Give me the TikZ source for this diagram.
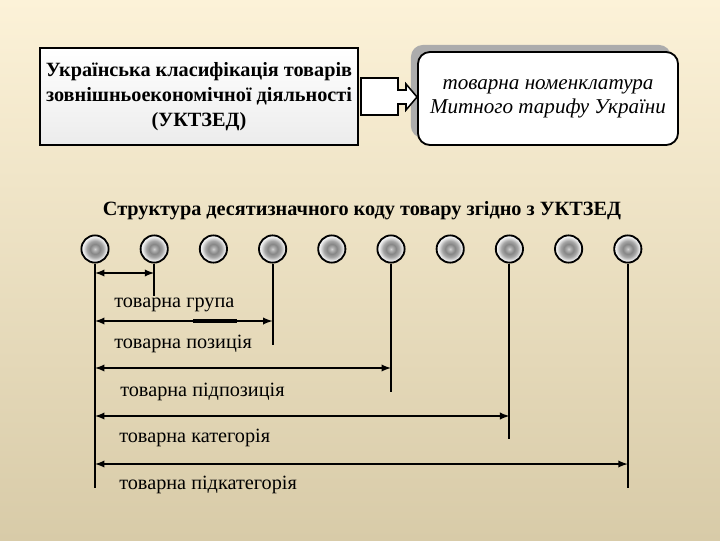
\documentclass[tikz,border=0pt]{standalone}
\usepackage{fontspec}
\setmainfont{Liberation Serif}
\usetikzlibrary{arrows,shadows}
\tikzset{every shadow/.style={fill=gray!65,opacity=1,shadow xshift=-5pt,shadow yshift=5pt}}
\pgfdeclareradialshading{knob}{\pgfpoint{0bp}{0bp}}{color(0bp)=(gray!35); color(3bp)=(gray!60); color(9bp)=(gray!95); color(15bp)=(gray!70); color(21bp)=(gray!20); color(25bp)=(white); color(50bp)=(white)}
\definecolor{bgtop}{HTML}{FCF2D8}
\definecolor{bgbot}{HTML}{D8CBA8}

\begin{document}
\begin{tikzpicture}[x=0.025cm,y=-0.025cm,
  leftbox/.style={draw=black,line width=1.5pt,top color=white,bottom color=gray!15,
    minimum width=7.95cm,minimum height=2.425cm,align=center,
    font=\bfseries\fontsize{14.4}{18}\selectfont},
  rbox/.style={draw=black,line width=1.3pt,fill=white,rounded corners=8.5pt,drop shadow,
    minimum width=6.5cm,minimum height=2.325cm,align=center,
    font=\itshape\fontsize{15}{17}\selectfont},
  digit/.style={circle,draw=black,line width=1.3pt,minimum size=0.68cm,inner sep=0pt,shade,shading=knob},
  tick/.style={line width=1.3pt},
  dim/.style={latex-latex,line width=1.3pt},
  lbl/.style={anchor=west,inner sep=0pt,font=\fontsize{14.4}{16}\selectfont}]
\shade[top color=bgtop,bottom color=bgbot] (0,0) rectangle (720,540);
% top boxes
\node (ukt) [leftbox] at (199,96.5) {Українська класифікація товарів\\зовнішньоекономічної діяльності\\(УКТЗЕД)};
\node (mtu) [rbox] at (548,98.5) {товарна номенклатура\\Митного тарифу України};
\draw[line width=1.1pt,fill=white] (361,78) -- (398,78) -- (398,90) -- (406,90) -- (406,84) -- (417,97)
  -- (406,110) -- (406,104) -- (398,104) -- (398,115) -- (361,115) -- cycle;
%
\node (title) [font=\bfseries\fontsize{14.4}{16}\selectfont] at (362,211) {Структура десятизначного коду товару згідно з УКТЗЕД};
% ten digits of the code
\foreach \i in {1,...,10}
  \node (d\i) [digit] at ({95+(\i-1)*59.2},249) {};
\foreach \i/\y in {1/488,2/296,4/345,6/392,8/439,10/488} {
  \coordinate (e\i) at (d\i |- 0,\y);
  \draw[tick] (d\i) -- (e\i);
}
\foreach \j/\y in {2/273,4/321,6/368,8/416,10/464}
  \path[dim] (d1 |- 0,\y) edge (d\j |- 0,\y);
\draw[line width=2.4pt] (193,321) -- (237,321);
%
\node (grp) [lbl] at (114,305) {товарна група};
\node (pos) [lbl] at (114,344) {товарна позиція};
\node (subpos) [lbl] at (120,392) {товарна підпозиція};
\node (cat) [lbl] at (119,438) {товарна категорія};
\node (subcat) [lbl] at (119,485) {товарна підкатегорія};
\end{tikzpicture}
\end{document}
